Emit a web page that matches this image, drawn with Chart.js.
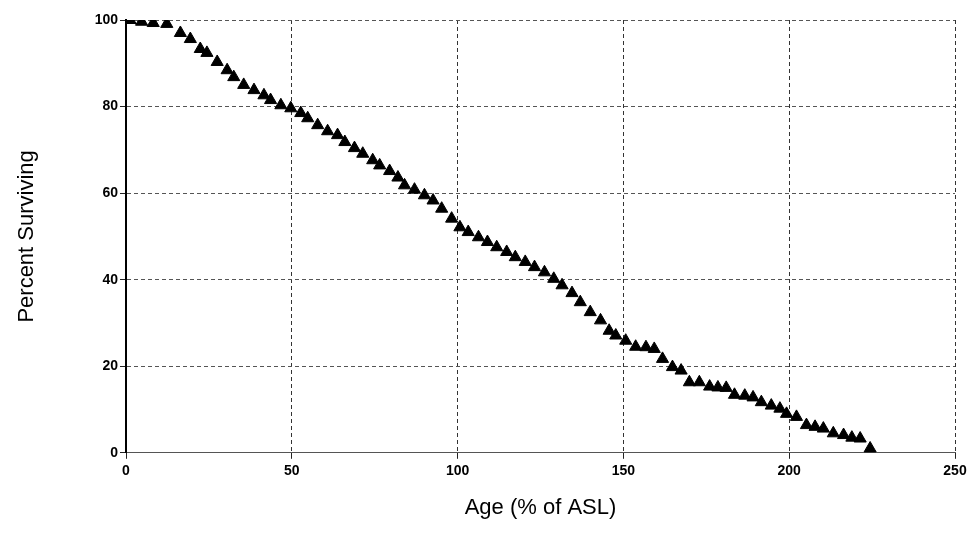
<!DOCTYPE html>
<html>
<head>
<meta charset="utf-8">
<script src="https://cdn.jsdelivr.net/npm/chart.js@4"></script>
<style>
  body { margin: 0; background: #fff; }
  #wrap { width: 979px; height: 537px; }
</style>
</head>
<body>
<div id="wrap"><canvas id="myChart" width="979" height="537"></canvas></div>
<script>
// age as % of ASL, and percent surviving
const ages = [1.2, 4.7, 8.2, 12.3, 16.4, 19.4, 22.4, 24.4, 27.5, 30.5, 32.5, 35.5, 38.6, 41.6, 43.6, 46.7, 49.7,
  52.7, 54.8, 57.8, 60.8, 63.8, 66, 68.9, 71.4, 74.4, 76.5, 79.5, 82, 84, 87, 90, 92.6, 95.2, 98.2, 100.7, 103.2,
  106.3, 109, 111.8, 114.8, 117.4, 120.4, 123.2, 126.2, 129, 131.5, 134.5, 137, 140, 143.1, 145.7, 147.7,
  150.7, 153.7, 156.8, 159.3, 161.8, 164.8, 167.4, 169.9, 172.9, 176, 178.5, 181, 183.5, 186.6, 189.1, 191.6,
  194.6, 197.2, 199.2, 202.2, 205.2, 207.8, 210.3, 213.3, 216.4, 218.9, 221.4, 224.4];
const surviving = [100, 99.6, 99.3, 99.1, 97, 95.6, 93.3, 92.4, 90.3, 88.4, 86.8, 85, 83.8, 82.6, 81.5, 80.3, 79.6,
  78.5, 77.3, 75.7, 74.3, 73.4, 71.8, 70.4, 69.1, 67.6, 66.4, 65.1, 63.6, 61.8, 60.8, 59.5, 58.3, 56.4, 54.1, 52.1, 51,
  49.8, 48.7, 47.5, 46.4, 45.2, 44.1, 42.9, 41.7, 40.2, 38.7, 36.9, 34.8, 32.5, 30.6, 28.2, 27.1,
  25.9, 24.5, 24.4, 24, 21.7, 19.8, 19, 16.3, 16.3, 15.3, 15.1, 15, 13.4, 13.2, 12.8, 11.7,
  10.9, 10.2, 9, 8.3, 6.4, 6, 5.6, 4.5, 4.1, 3.5, 3.3, 1];

const xTicks = [0, 50, 100, 150, 200, 250];
const yTicks = [0, 20, 40, 60, 80, 100];

const points = ages.map((a, i) => ({ x: a, y: surviving[i] }));

const tickFont = { family: "Liberation Sans", size: 14, weight: "bold" };
const titleFont = { family: "Liberation Sans", size: 22 };

new Chart(document.getElementById("myChart").getContext("2d"), {
  type: "scatter",
  data: {
    datasets: [
      {
        data: points,
        pointStyle: "triangle",
        pointRadius: 7,
        backgroundColor: "#000",
        borderColor: "#000",
        borderWidth: 1
      }
    ]
  },
  options: {
    responsive: false,
    animation: false,
    layout: { padding: { left: 10, right: 24, top: 20, bottom: 12 } },
    plugins: { legend: { display: false }, tooltip: { enabled: false } },
    scales: {
      x: {
        type: "linear",
        min: 0,
        max: 250,
        afterBuildTicks: s => { s.ticks = xTicks.map(v => ({ value: v })); },
        grid: { color: "#333", tickLength: 6, tickColor: "#222" },
        border: { color: "#555", dash: [4, 3] },
        ticks: { color: "#000", font: tickFont, padding: 4 },
        title: {
          display: true,
          text: "Age (% of ASL)",
          color: "#000",
          font: titleFont,
          padding: { top: 11 }
        }
      },
      y: {
        min: 0,
        max: 100,
        afterBuildTicks: s => { s.ticks = yTicks.map(v => ({ value: v })); },
        afterFit: s => { s.width = 116; },
        grid: { color: "#555", tickLength: 6, tickColor: "#222" },
        border: { color: "#000", width: 2, dash: [4, 3] },
        ticks: { color: "#000", font: tickFont, padding: 2 },
        title: {
          display: true,
          text: "Percent Surviving",
          color: "#000",
          font: titleFont,
          padding: { bottom: 40 }
        }
      }
    }
  }
});
</script>
</body>
</html>
